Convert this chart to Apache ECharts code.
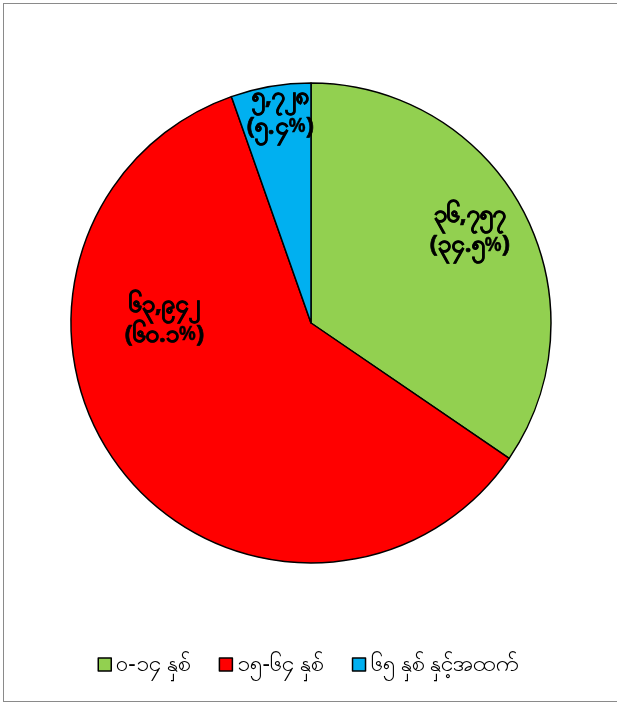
<!DOCTYPE html>
<html><head><meta charset="utf-8">
<script src="https://cdn.jsdelivr.net/npm/echarts@6/dist/echarts.min.js"></script>
<style>
html,body{margin:0;padding:0;background:#fff;overflow:hidden;width:617px;height:705px;}
#frame{position:absolute;left:3px;top:3px;width:614px;height:699px;border-left:1.5px solid #8a8a8a;border-top:1.5px solid #8a8a8a;border-bottom:1.5px solid #8a8a8a;box-sizing:border-box;}
#chart{position:absolute;left:0;top:0;width:617px;height:705px;}
</style></head>
<body>
<div id="frame"></div>
<div id="chart"></div>
<script>
const categories = ['၀-၁၄ နှစ်', '၁၅-၆၄ နှစ်', '၆၅ နှစ် နှင့်အထက်'];
const values = [36757, 63942, 5728];
const valueLabels = ['၃၆,၇၅၇', '၆၃,၉၄၂', '၅,၇၂၈'];
const percentLabels = ['၃၄.၅', '၆၀.၁', '၅.၄'];
const colors = ['#92D050', '#FF0000', '#00B0F0'];
const labelOffsets = [[50, -35], [-49, -78], [-10, -90]];

const chart = echarts.init(document.getElementById('chart'), null, {renderer: 'canvas'});
const data = categories.map((c, i) => ({
  name: c,
  value: values[i],
  itemStyle: {color: colors[i]},
  label: {offset: labelOffsets[i]}
}));
const labelBase = {color: '#000', fontSize: 24, fontWeight: 'bold', lineHeight: 30,
  fontFamily: 'Noto Sans, sans-serif', textBorderColor: '#000', textBorderWidth: 0.7};
chart.setOption({
  animation: false,
  backgroundColor: 'transparent',
  legend: {
    bottom: 24,
    left: 'center',
    itemWidth: 13,
    itemHeight: 13,
    itemGap: 28,
    icon: 'rect',
    itemStyle: {borderColor: '#000', borderWidth: 1.5},
    textStyle: {fontSize: 23, color: '#000', fontFamily: 'Noto Sans, sans-serif'},
    data: categories
  },
  series: [{
    type: 'pie',
    center: [311, 323],
    radius: 240,
    startAngle: 90,
    clockwise: true,
    itemStyle: {borderColor: '#000', borderWidth: 1.5},
    label: Object.assign({
      show: true,
      position: 'inside',
      formatter: p => '{a|' + valueLabels[p.dataIndex] + '}\n{a|(' + percentLabels[p.dataIndex] + '}{p|%}{a|)}',
      rich: {
        a: Object.assign({}, labelBase),
        p: Object.assign({}, labelBase, {fontSize: 19, textBorderWidth: 0.3})
      }
    }, labelBase),
    labelLine: {show: false},
    emphasis: {disabled: true},
    data: data
  }]
});
</script>
</body></html>
